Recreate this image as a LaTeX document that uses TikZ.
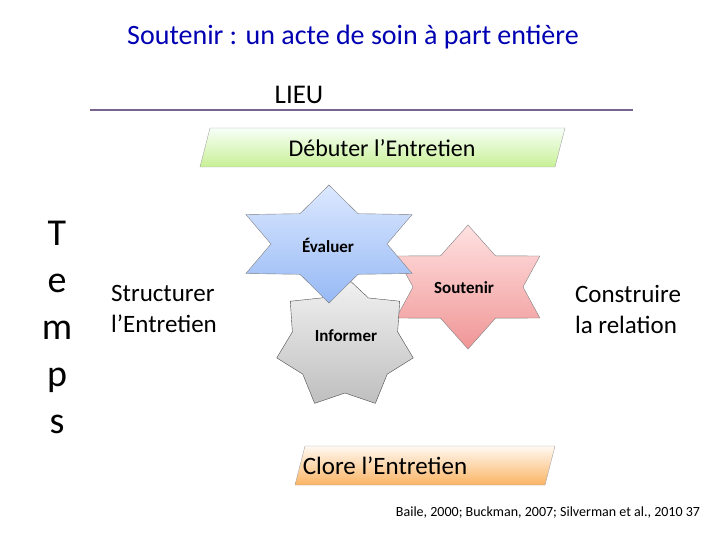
\documentclass[tikz,border=0pt]{standalone}
\usepackage{fontspec}
\setmainfont{Carlito}
\begin{document}
\begin{tikzpicture}[x=1pt,y=-1pt,
 lbl/.style={font=\fontsize{24}{29}\selectfont},
 sl/.style={font=\bfseries\fontsize{17}{20}\selectfont}]
\useasboundingbox (0,0) rectangle (720,540);
\node[text=blue!70!black,font=\fontsize{28}{33}\selectfont] (title) at (353,37) {Soutenir : un acte de soin à part entière};
\node[font=\fontsize{27}{33}\selectfont] (lieu) at (299,95) {LIEU};
\coordinate (l1) at (90,110); \coordinate (l2) at (633,110);
\draw[line width=2.5pt,color={rgb,255:red,120;green,100;blue,140}] (l1)--(l2);
\shade[top color=green!3,bottom color={rgb,255:red,200;green,240;blue,150},draw=gray!70]
 (210,128)--(565,128)--(555,167)--(200,167)--cycle;
\node[lbl] (deb) at (382,148) {Débuter l’Entretien};
\shade[top color=orange!5,bottom color={rgb,255:red,250;green,180;blue,100},draw=gray!70]
 (305,446)--(555,446)--(545,485)--(295,485)--cycle;
\node[font=\fontsize{25}{30}\selectfont] (clo) at (385,466) {Clore l’Entretien};
\node[font=\fontsize{38}{47}\selectfont,align=center] (temps) at (57,327) {T\\e\\m\\p\\s};
\node[font=\fontsize{25}{31}\selectfont,align=left] (str) at (164,309) {Structurer\\l’Entretien};
\node[font=\fontsize{25}{31}\selectfont,align=left] (con) at (628,309) {Construire\\la relation};
% pink star
\shade[top color={rgb,255:red,255;green,225;blue,225},bottom color={rgb,255:red,240;green,150;blue,150},draw=gray]
 plot[samples at={0,...,12}] ({468+(mod(\x,2)==0?83:55)*cos(90+30*\x)},{287-(mod(\x,2)==0?62:36)*sin(90+30*\x)}) -- cycle;
% gray star
\shade[top color=gray!10,bottom color=gray!50,draw=gray!60!black]
 plot[samples at={0,...,14}] ({345+(mod(\x,2)==0?70:54)*cos(90+180/7*\x)},{343-(mod(\x,2)==0?67:50)*sin(90+180/7*\x)}) -- cycle;
% blue star
\shade[top color={rgb,255:red,220;green,232;blue,255},bottom color={rgb,255:red,150;green,185;blue,245},draw=gray]
 plot[samples at={0,...,12}] ({329+(mod(\x,2)==0?96:58)*cos(90+30*\x)},{244-(mod(\x,2)==0?59:35)*sin(90+30*\x)}) -- cycle;
\node[sl] (ev) at (328,245) {Évaluer};
\node[sl] (sou) at (464,288) {Soutenir};
\node[sl] (inf) at (346,336) {Informer};
\node[font=\fontsize{14}{17}\selectfont] (ref) at (548,513) {Baile, 2000; Buckman, 2007; Silverman et al., 2010 37};
\end{tikzpicture}
\end{document}
